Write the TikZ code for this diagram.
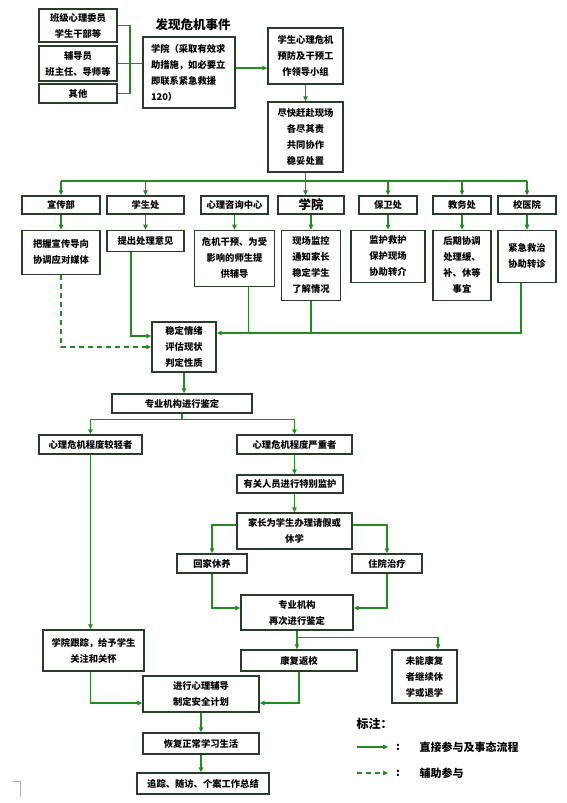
\documentclass[tikz,border=0pt]{standalone}
\usepackage{fontspec}
\setmainfont{Noto Sans CJK SC}
\usetikzlibrary{arrows.meta, positioning}
\definecolor{lvse}{RGB}{34,139,34}
\definecolor{kuangxian}{RGB}{40,62,40}
\definecolor{biaoji}{RGB}{175,175,175}

\begin{document}
\begin{tikzpicture}[
        x=1pt, y=-1pt,
        node distance=15pt,
        kuang/.style={draw=kuangxian,line width=1.3pt,fill=white,align=center,inner sep=1pt,
            font=\fontsize{9.3}{16}\selectfont\bfseries},
        xian/.style={draw=lvse,line width=1.2pt},
        jt/.style={xian,-{Triangle[length=5pt,width=4.5pt]}},
        fuzhu/.style={jt,dash pattern=on 5pt off 4pt}
    ]
        \useasboundingbox (0,0) rectangle (566,803);

        % top: discovery
        \node[kuang,minimum width=78pt,minimum height=33pt] (ban) at (78,25.5) {班级心理委员\\学生干部等};
        \node[kuang,minimum width=78pt,minimum height=35pt] (fdy) at (78,63.5) {辅导员\\班主任、导师等};
        \node[kuang,minimum width=78pt,minimum height=19pt] (qita) at (78,93.5) {其他};
        \node[font=\fontsize{12.5}{14}\selectfont\bfseries] (fx) at (193,25) {发现危机事件};
        \node[kuang,align=left,text width=76pt,inner xsep=8pt,minimum height=71pt] (xyjz) at (189,72.5) {学院（采取有效求\\助措施，如必要立\\即联系紧急救援\\120）};
        \node[kuang,minimum width=75pt,minimum height=56pt] (xzz) at (305.5,56) {学生心理危机\\预防及干预工\\作领导小组};
        \node[kuang,minimum width=75pt,minimum height=70pt] (gf) at (305.5,137) {尽快赶赴现场\\各尽其责\\共同协作\\稳妥处置};

        % departments
        \node[kuang,minimum width=78pt,minimum height=18pt] (xcb) at (61,205) {宣传部};
        \node[kuang,minimum width=77pt,minimum height=18pt] (xsc) at (145.5,205) {学生处};
        \node[kuang,minimum width=67pt,minimum height=18pt] (xlzx) at (234.5,205) {心理咨询中心};
        \node[kuang,minimum width=66pt,minimum height=18pt,font=\fontsize{12.5}{14}\selectfont\bfseries] (xy) at (311,205) {学院};
        \node[kuang,minimum width=58pt,minimum height=18pt] (bwc) at (388,205) {保卫处};
        \node[kuang,minimum width=58pt,minimum height=18pt] (jwc) at (462,205) {教务处};
        \node[kuang,minimum width=58pt,minimum height=18pt] (xyy) at (527,205) {校医院};

        \node[kuang,minimum width=78pt,minimum height=44pt,below=of xcb] (xcb2) {把握宣传导向\\协调应对媒体};
        \node[kuang,minimum width=77pt,minimum height=21pt,below=of xsc] (xsc2) {提出处理意见};
        \node[kuang,minimum width=80pt,minimum height=56pt,below=of xlzx] (xlzx2) {危机干预、为受\\影响的师生提\\供辅导};
        \node[kuang,minimum width=59pt,minimum height=70pt,below=of xy] (xy2) {现场监控\\通知家长\\稳定学生\\了解情况};
        \node[kuang,minimum width=74pt,minimum height=52pt,below=of bwc] (bwc2) {监护救护\\保护现场\\协助转介};
        \node[kuang,minimum width=58pt,minimum height=70pt,below=of jwc] (jwc2) {后期协调\\处理缓、\\补、休等\\事宜};
        \node[kuang,minimum width=58pt,minimum height=52pt,below=of xyy] (xyy2) {紧急救治\\协助转诊};

        % assessment
        \node[kuang,minimum width=64pt,minimum height=50pt] (wd) at (184,347) {稳定情绪\\评估现状\\判定性质};
        \node[kuang,minimum width=140pt,minimum height=19pt] (jd) at (182,403.5) {专业机构进行鉴定};
        \node[kuang,minimum width=103pt,minimum height=19pt] (qz) at (90.5,444.5) {心理危机程度较轻者};
        \node[kuang,minimum width=115pt,minimum height=19pt] (yz) at (294.5,444.5) {心理危机程度严重者};
        \node[kuang,minimum width=106pt,minimum height=18pt] (jh) at (290,484) {有关人员进行特别监护};
        \node[kuang,minimum width=115pt,minimum height=36pt] (qj) at (294.5,531) {家长为学生办理请假或\\休学};
        \node[kuang,minimum width=70pt,minimum height=19pt] (hj) at (212,563.5) {回家休养};
        \node[kuang,minimum width=70pt,minimum height=19pt] (zy) at (387,563.5) {住院治疗};
        \node[kuang,minimum width=112pt,minimum height=35pt] (zcjd) at (297,612.5) {专业机构\\再次进行鉴定};
        \node[kuang,minimum width=101pt,minimum height=41pt] (gz) at (93.5,650.5) {学院跟踪，给予学生\\关注和关怀};
        \node[kuang,minimum width=116pt,minimum height=21pt] (kf) at (299,660.5) {康复返校};
        \node[kuang,minimum width=65pt,minimum height=53pt] (wn) at (424.5,676.5) {未能康复\\者继续休\\学或退学};
        \node[kuang,minimum width=116pt,minimum height=36pt] (fd) at (201,694) {进行心理辅导\\制定安全计划};
        \node[kuang,minimum width=116pt,minimum height=21pt] (hf) at (201,743.5) {恢复正常学习生活};
        \node[kuang,minimum width=132pt,minimum height=21pt] (zz) at (203,783.5) {追踪、随访、个案工作总结};

        % legend
        \node[anchor=west,font=\fontsize{12}{14}\selectfont\bfseries] (bz) at (353,724) {标注：};
        \coordinate (la1) at (357,747);
        \coordinate (lb1) at (388,747);
        \coordinate (la2) at (357,773);
        \coordinate (lb2) at (388,773);
        \node[font=\fontsize{11}{13}\selectfont\bfseries] (mh1) at (398,747) {:};
        \node[font=\fontsize{11}{13}\selectfont\bfseries] (mh2) at (398,773) {:};
        \node[anchor=west,font=\fontsize{11}{13}\selectfont\bfseries] (lt1) at (416,747) {直接参与及事态流程};
        \node[anchor=west,font=\fontsize{11}{13}\selectfont\bfseries] (lt2) at (416,773) {辅助参与};
        \draw[jt] (la1) -- (lb1);
        \draw[fuzhu] (la2) -- (lb2);

        % connectors, top
        \coordinate (hub) at (130,63.5);
        \draw[xian] (ban.east) -| (hub) |- (qita.east);
        \draw[xian] (fdy.east) -- (fdy.east -| xyjz.west);
        \draw[jt] ([yshift=4.5pt]xyjz.east) -- ([yshift=4.5pt]xyjz.east -| xzz.west);
        \draw[jt] (xzz) -- (gf);

        \coordinate (bus) at (0,181);
        \draw[jt] (gf.south) -- (gf.south |- xy.north);
        \draw[xian] (xcb.north |- bus) -- (xyy.north |- bus);
        \foreach \n in {xcb,xsc,bwc,jwc,xyy}
            \draw[jt] (\n.north |- bus) -- (\n.north);
        \foreach \n in {xcb,xsc,xlzx,xy,bwc,jwc,xyy}
            \draw[jt] (\n.south) -- (\n.south |- \n2.north);

        % into assessment box
        \coordinate (hx) at (0,333);
        \coordinate (xl) at ([xshift=14pt]xlzx2.south);
        \coordinate (yl) at ([xshift=-6pt]xyy2.south);
        \coordinate (sl) at ([xshift=-14.5pt]xsc2.south);
        \draw[xian] (xl) -- (xl |- hx);
        \draw[xian] (xy2.south) -- (xy2.south |- hx);
        \draw[jt] (yl) |- ([yshift=14pt]wd.east);
        \draw[jt] (sl) |- ([yshift=11pt]wd.west);
        \draw[fuzhu] (xcb2.south) |- (wd.west);

        % lower flow
        \draw[jt] (wd.south) -- (wd.south |- jd.north);
        \draw[jt] (jd.south) -- ++(0,6) -| (qz.north);
        \draw[jt] (jd.south) -- ++(0,6) -| (yz.north);
        \draw[jt] (yz.south) -- (yz.south |- jh.north);
        \draw[jt] (yz.south |- jh.south) -- (yz.south |- qj.north);
        \draw[jt] ([yshift=6pt]qj.west) -| (hj.north);
        \draw[jt] ([yshift=6pt]qj.east) -| (zy.north);
        \draw[jt] (hj.south) |- ([yshift=4.5pt]zcjd.west);
        \draw[jt] (zy.south) |- ([yshift=4.5pt]zcjd.east);
        \draw[jt] (zcjd.south) -- (zcjd.south |- kf.north);
        \coordinate (wr) at ([xshift=13.5pt]wn.north);
        \draw[jt] (zcjd.south) -- ++(0,7) -| (wr);
        \draw[jt] (qz.south) -- (qz.south |- gz.north);
        \draw[jt] (qz.south |- gz.south) |- ([yshift=-9pt]fd.west);
        \draw[jt] (kf.south) |- ([yshift=-9pt]fd.east);
        \draw[jt] (fd) -- (hf);
        \draw[jt] (hf.south) -- (hf.south |- zz.north);

        % corner mark
        \draw[biaoji,line width=0.8pt] (13,781) -- (20,781) -- (20,797);
    \end{tikzpicture}
\end{document}
